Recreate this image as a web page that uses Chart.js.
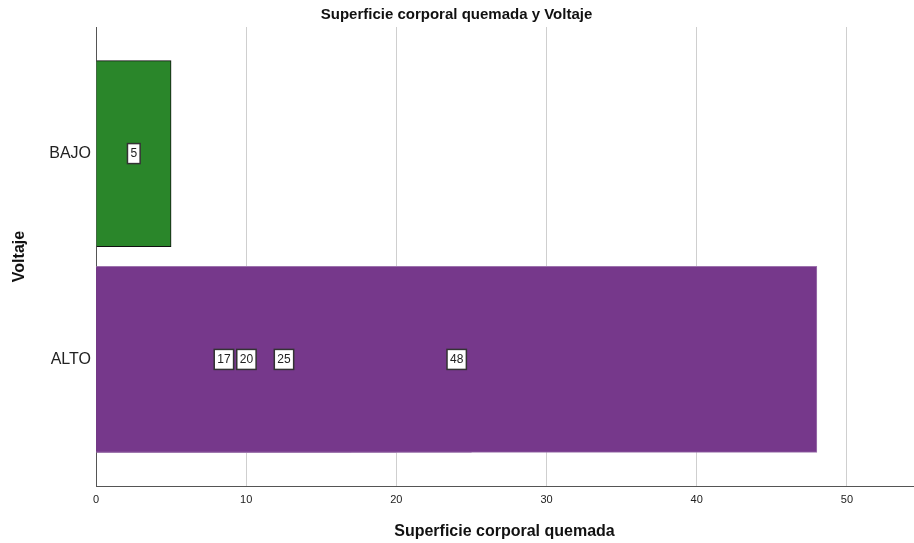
<!DOCTYPE html>
<html>
<head>
<meta charset="utf-8">
<script src="https://cdn.jsdelivr.net/npm/chart.js@4/dist/chart.umd.min.js"></script>
<style>
  html, body { margin: 0; padding: 0; background: #fff; }
  #wrap { width: 914px; height: 543px; }
</style>
</head>
<body>
<div id="wrap"><canvas id="chart" width="914" height="543"></canvas></div>
<script>
// categories on the vertical axis (top to bottom)
const categories = ['BAJO', 'ALTO'];
// BAJO has one bar, ALTO has several overlapping bars drawn from 0
const bajoValues = [5];
const altoValues = [48, 25, 20, 17];
const xTicks = [0, 10, 20, 30, 40, 50];

const FONT = "'Liberation Sans', Arial, sans-serif";

// small white boxes with the value in the middle of each bar
const valueBoxes = {
    id: 'valueBoxes',
    afterDatasetsDraw(chart) {
        const ctx = chart.ctx;
        ctx.save();
        ctx.font = '12px ' + FONT;
        ctx.textAlign = 'center';
        ctx.textBaseline = 'middle';
        chart.data.datasets.forEach((ds, i) => {
            const meta = chart.getDatasetMeta(i);
            meta.data.forEach((bar, j) => {
                const txt = String(ds.data[j].x);
                const cx = (bar.x + bar.base) / 2;
                const cy = bar.y;
                const w = ctx.measureText(txt).width + 6;
                const h = 20;
                ctx.fillStyle = '#ffffff';
                ctx.fillRect(cx - w / 2, cy - h / 2, w, h);
                ctx.lineWidth = 1.5;
                ctx.strokeStyle = '#333333';
                ctx.strokeRect(cx - w / 2, cy - h / 2, w, h);
                ctx.fillStyle = '#222222';
                ctx.fillText(txt, cx, cy + 0.5);
            });
        });
        ctx.restore();
    }
};

const datasets = [];
datasets.push({
    label: categories[0],
    data: bajoValues.map(v => ({ x: v, y: 0 })),
    backgroundColor: '#2a862a',
    borderColor: '#111111',
    borderWidth: 1,
    grouped: false,
    barThickness: 186
});
altoValues.forEach(v => {
    datasets.push({
        label: categories[1],
        data: [{ x: v, y: 1 }],
        backgroundColor: '#76388b',
        borderColor: '#9d73ad',
        borderWidth: 1,
        grouped: false,
        barThickness: 186
    });
});

new Chart(document.getElementById('chart'), {
    type: 'bar',
    data: { datasets },
    options: {
        indexAxis: 'y',
        responsive: false,
        animation: false,
        layout: { padding: { left: 0, right: 1, top: 0, bottom: 0 } },
        plugins: {
            legend: { display: false },
            tooltip: { enabled: false },
            title: {
                display: true,
                text: 'Superficie corporal quemada y Voltaje',
                color: '#111',
                font: { family: FONT, size: 15, weight: 'bold' },
                padding: { top: 6, bottom: 3 }
            }
        },
        scales: {
            x: {
                type: 'linear',
                min: 0,
                max: 54.4,
                afterBuildTicks: s => { s.ticks = xTicks.map(v => ({ value: v })); },
                afterFit: s => { s.height = 57; },
                grid: {
                    color: ctx => ctx.tick && ctx.tick.value === 0 ? 'rgba(0,0,0,0)' : '#cfcfcf',
                    lineWidth: 1,
                    drawTicks: false
                },
                border: { display: true, color: '#555555', width: 1 },
                ticks: { color: '#222', font: { family: FONT, size: 11 }, padding: 7, maxRotation: 0 },
                title: {
                    display: true,
                    text: 'Superficie corporal quemada',
                    color: '#111',
                    font: { family: FONT, size: 16, weight: 'bold' },
                    padding: { top: 0, bottom: 2 }
                }
            },
            y: {
                type: 'linear',
                reverse: true,
                offset: false,
                min: -0.615,
                max: 1.615,
                afterBuildTicks: s => { s.ticks = categories.map((c, i) => ({ value: i })); },
                afterFit: s => { s.width = 96; },
                grid: { offset: false, drawOnChartArea: false, drawTicks: false },
                border: { display: true, color: '#555555', width: 1 },
                ticks: {
                    color: '#222',
                    font: { family: FONT, size: 16 },
                    padding: 5,
                    callback: v => categories[v] ?? ''
                },
                title: {
                    display: true,
                    text: 'Voltaje',
                    color: '#111',
                    font: { family: FONT, size: 16, weight: 'bold' },
                    padding: { top: 10, bottom: 0 }
                }
            }
        }
    },
    plugins: [valueBoxes]
});
</script>
</body>
</html>
